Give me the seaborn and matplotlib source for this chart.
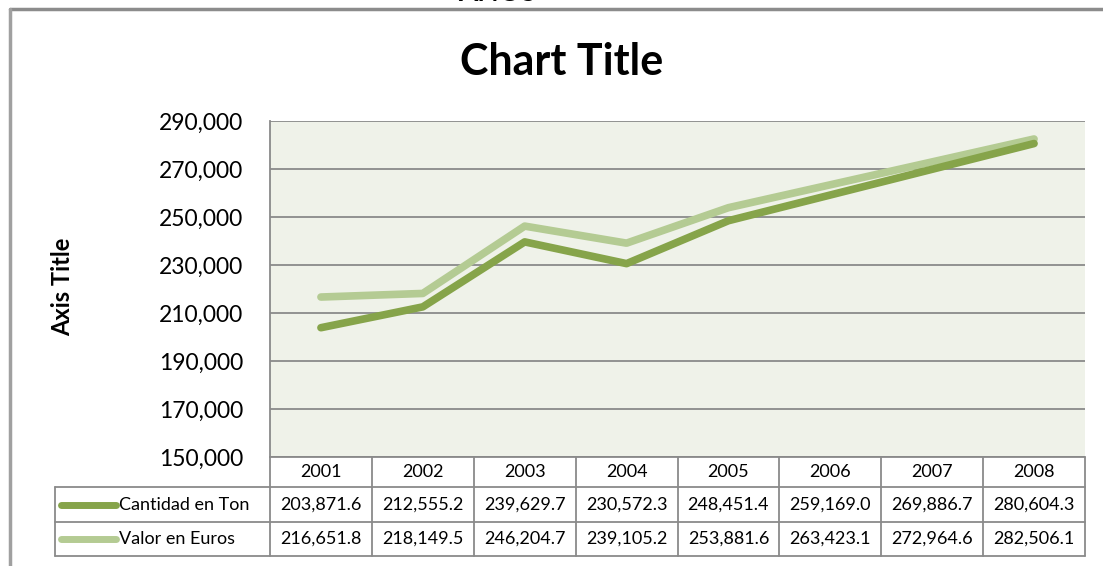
import numpy as np
import pandas as pd
import seaborn as sns
import matplotlib
matplotlib.use("Agg")
from matplotlib import pyplot as plt
from matplotlib.lines import Line2D

years = ["2001", "2002", "2003", "2004", "2005", "2006", "2007", "2008"]
cantidad = [203871.6, 212555.2, 239629.7, 230572.3, 248451.4, 259169.0, 269886.7, 280604.3]
valor = [216651.8, 218149.5, 246204.7, 239105.2, 253881.6, 263423.1, 272964.6, 282506.1]
series_names = ["Cantidad en Ton", "Valor en Euros"]
yticks = [150000, 170000, 190000, 210000, 230000, 250000, 270000, 290000]

dark = "#86a44a"
light = "#b4cb93"
grid_c = "#8a8a8a"

sns.set_style("white")
plt.rcParams['font.family'] = ['Lato', 'DejaVu Sans']
plt.rcParams['text.color'] = 'black'
plt.rcParams['ytick.color'] = 'black'

W, H = 1103, 566
fig = plt.figure(figsize=(W / 100, H / 100), dpi=100)

def px(x0, y0, x1, y1):
    # pixel box -> figure fraction rect
    return [x0 / W, 1 - y1 / H, (x1 - x0) / W, (y1 - y0) / H]

df = pd.DataFrame({
    "x": list(range(len(years))) * 2,
    "value": cantidad + valor,
    "serie": [series_names[0]] * len(years) + [series_names[1]] * len(years),
})

ax = fig.add_axes(px(270, 121, 1085, 457))
ax.set_facecolor("#eff2e9")
sns.lineplot(data=df, x="x", y="value", hue="serie", hue_order=series_names[::-1],
             palette={series_names[0]: dark, series_names[1]: light},
             linewidth=5.5, ax=ax, legend=False, sort=False)
for ln in ax.get_lines():
    ln.set_solid_capstyle("round")
    ln.set_solid_joinstyle("round")
ax.set_xlim(-0.5, len(years) - 0.5)
ax.set_ylim(150000, 290000)
ax.set_yticks(yticks)
ax.set_yticklabels([f"{v:,}" for v in yticks], fontsize=16.5)
ax.tick_params(axis="y", length=0, pad=19)
ax.set_xticks([])
ax.set_xlabel("")
ax.set_ylabel("")
ax.grid(axis="y", color=grid_c, linewidth=1.3)
for s in ax.spines.values():
    s.set_visible(False)
ax.spines["left"].set_visible(True)
ax.spines["left"].set_color(grid_c)
ax.spines["left"].set_linewidth(1.3)

# data table below the plot, sharing the category positions
col_w = 815 / len(years)
key_w = (270 - 55) / col_w
tax = fig.add_axes(px(55, 457, 1085, 556))
tax.set_xlim(-0.5 - key_w, len(years) - 0.5)
tax.set_ylim(99, 0)
tax.axis("off")
rows = [0, 30, 65, 99]
lw_t = 1.3
tax.plot([-0.5, len(years) - 0.5], [rows[0]] * 2, color=grid_c, lw=lw_t, clip_on=False)
for r in rows[1:]:
    tax.plot([-0.5 - key_w, len(years) - 0.5], [r, r], color=grid_c, lw=lw_t, clip_on=False)
for i in range(len(years) + 1):
    tax.plot([i - 0.5, i - 0.5], [rows[0], rows[3]], color=grid_c, lw=lw_t, clip_on=False)
tax.plot([-0.5 - key_w] * 2, [rows[1], rows[3]], color=grid_c, lw=lw_t, clip_on=False)

for i, y in enumerate(years):
    tax.text(i, (rows[0] + rows[1]) / 2, y, ha="center", va="center", fontsize=13)
for r, (name, vals, c) in enumerate(zip(series_names, [cantidad, valor], [dark, light])):
    yc = (rows[r + 1] + rows[r + 2]) / 2
    for i, v in enumerate(vals):
        tax.text(i, yc, f"{v:,.1f}", ha="center", va="center", fontsize=13)
    tax.plot([-0.5 - key_w + 0.06, -0.5 - key_w + 0.6], [yc, yc], color=c, lw=5,
             solid_capstyle="round", clip_on=False)
    tax.text(-0.5 - key_w + 0.63, yc, name, ha="left", va="center", fontsize=13)

fig.text(562 / W, 1 - 62 / H, "Chart Title", ha="center", va="center",
         fontsize=31, fontweight="bold")
fig.text(63 / W, 1 - 287 / H, "Axis Title", ha="center", va="center",
         fontsize=17, fontweight="bold", rotation=90)
# axis title of the chart above, mostly outside the crop
fig.text(497 / W, 1 - (-7) / H, "AÑOS", ha="center", va="center",
         fontsize=20, fontweight="bold")

# outer chart border
fig.add_artist(Line2D([10 / W, 1], [1 - 8.5 / H] * 2, color="#8c8c8c", lw=2.5))
fig.add_artist(Line2D([10 / W] * 2, [0, 1 - 8.5 / H], color="#a0a0a0", lw=2.5))

fig.savefig("out.png", dpi=100)
